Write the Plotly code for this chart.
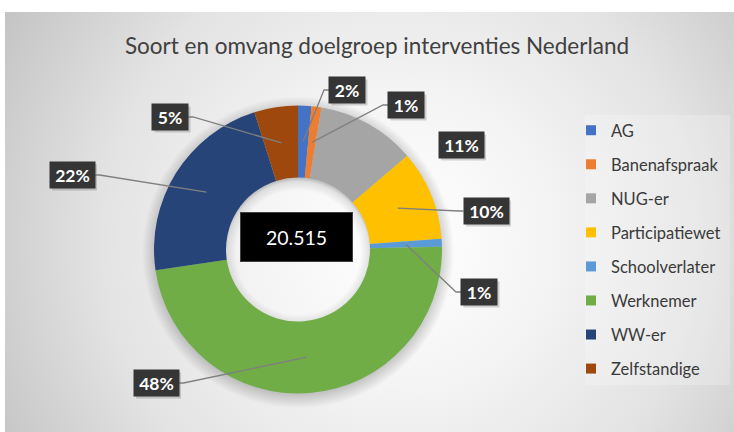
import math
import urllib.parse
import plotly.graph_objects as go

# ---------------- data ----------------
categories = ["AG", "Banenafspraak", "NUG-er", "Participatiewet",
              "Schoolverlater", "Werknemer", "WW-er", "Zelfstandige"]
values = [308, 226, 2277, 2072, 185, 9847, 4595, 1005]
pct_labels = ["2%", "1%", "11%", "10%", "1%", "48%", "22%", "5%"]
total_label = "20.515"
title_text = "Soort en omvang doelgroep interventies Nederland"

# ---------------- style / layout ----------------
colors = ["#4472C4", "#ED7D31", "#A5A5A5", "#FFC000",
          "#5B9BD5", "#70AD47", "#264478", "#9E480E"]
W, H = 734, 432
dom_x = [154 / W, 442 / W]
dom_y = [1 - 393.5 / H, 1 - 105.5 / H]
hole = 0.5
# label box centres (pixels) and whether a leader line is drawn
label_pos = [(347, 90), (406, 105), (461, 145), (486, 211),
             (479, 292), (156, 383), (72, 175), (170, 117)]
leader = [True, True, False, True, True, True, True, True]

FONT = "Lato"

def px2paper(x, y):
    return x / W, 1 - y / H

# pie geometry (pixels) derived from domain
cx = (dom_x[0] + dom_x[1]) / 2 * W
cy = (1 - (dom_y[0] + dom_y[1]) / 2) * H
R = min((dom_x[1] - dom_x[0]) * W, (dom_y[1] - dom_y[0]) * H) / 2
R_mid = R * (1 + hole) / 2
R_in = R * hole

# ---------------- background (radial gradient panel) ----------------
px0, py0 = 5, 12
pw, ph = W - px0, H - py0
so = R + 12
svg = f"""<svg xmlns='http://www.w3.org/2000/svg' width='{pw}' height='{ph}' viewBox='0 0 {pw} {ph}' preserveAspectRatio='none'>
<defs>
<radialGradient id='bg' gradientUnits='userSpaceOnUse' cx='{400-px0}' cy='{240-py0}' r='460'>
<stop offset='0' stop-color='#ffffff'/>
<stop offset='0.3' stop-color='#f5f5f5'/>
<stop offset='0.65' stop-color='#e3e3e3'/>
<stop offset='1' stop-color='#c3c3c3'/>
</radialGradient>
<radialGradient id='sh' gradientUnits='userSpaceOnUse' cx='{cx-px0}' cy='{cy-py0+3}' r='{so}'>
<stop offset='0' stop-color='#000' stop-opacity='0'/>
<stop offset='{(R_in-10)/so:.3f}' stop-color='#000' stop-opacity='0'/>
<stop offset='{(R_in-1)/so:.3f}' stop-color='#000' stop-opacity='0.10'/>
<stop offset='{(R_in+2)/so:.3f}' stop-color='#000' stop-opacity='0.22'/>
<stop offset='{(R-4)/so:.3f}' stop-color='#000' stop-opacity='0.22'/>
<stop offset='1' stop-color='#000' stop-opacity='0'/>
</radialGradient>
</defs>
<rect x='0' y='0' width='{pw}' height='{ph}' fill='url(#bg)'/>
<rect x='{585-px0}' y='{115-py0}' width='{730-585}' height='{385-115}' fill='#ffffff' fill-opacity='0.22'/>
<circle cx='{cx-px0}' cy='{cy-py0+3}' r='{so}' fill='url(#sh)'/>
</svg>"""
svg_uri = "data:image/svg+xml;charset=utf-8," + urllib.parse.quote(svg)

fig = go.Figure()

fig.add_trace(go.Pie(
    labels=categories, values=values, hole=hole, sort=False,
    direction="clockwise", rotation=0,
    marker=dict(colors=colors, line=dict(width=0)),
    textinfo="none", showlegend=False, hoverinfo="skip",
    domain=dict(x=dom_x, y=dom_y),
))

# legend entries (one group per category for spacing)
for cat, col in zip(categories, colors):
    fig.add_trace(go.Scatter(
        x=[None], y=[None], mode="markers", name=cat, legendgroup=cat,
        marker=dict(symbol="square", size=10, color=col),
        hoverinfo="skip", showlegend=True,
    ))

shapes = []
annotations = []
total = sum(values)
cum = 0
for i, v in enumerate(values):
    mid = (cum + v / 2) / total
    cum += v
    ang = 2 * math.pi * mid
    tx = cx + R_mid * math.sin(ang)
    ty = cy - R_mid * math.cos(ang)
    lx, ly = label_pos[i]
    bw = 36 if len(pct_labels[i]) <= 2 else 45
    bh = 26
    # shadow
    sx0, sy0 = px2paper(lx - bw / 2 + 2.5, ly - bh / 2 + 2.5)
    sx1, sy1 = px2paper(lx + bw / 2 + 2.5, ly + bh / 2 + 2.5)
    shapes.append(dict(type="rect", xref="paper", yref="paper",
                       x0=sx0, y0=sy0, x1=sx1, y1=sy1,
                       fillcolor="rgba(0,0,0,0.16)", line=dict(width=0),
                       layer="above"))
    if leader[i]:
        side = -1 if tx < lx else 1
        ex = lx + side * bw / 2
        elx = ex + side * 5
        p1 = px2paper(ex, ly)
        p2 = px2paper(elx, ly)
        p3 = px2paper(tx, ty)
        shapes.append(dict(type="path", xref="paper", yref="paper",
                           path=f"M {p1[0]},{p1[1]} L {p2[0]},{p2[1]} L {p3[0]},{p3[1]}",
                           line=dict(color="#7f7f7f", width=1.3), layer="above"))
    ax_, ay_ = px2paper(lx, ly)
    annotations.append(dict(
        x=ax_, y=ay_, xref="paper", yref="paper", showarrow=False,
        text=f"<b>{pct_labels[i]}</b>", bgcolor="#353535",
        font=dict(family=FONT, size=17.5, color="#ffffff"),
        width=bw, height=bh, borderpad=0, xanchor="center", yanchor="middle",
    ))

# centre total
tcx, tcy = px2paper(296.5, 237)
annotations.append(dict(
    x=tcx, y=tcy, xref="paper", yref="paper", showarrow=False,
    text=total_label, bgcolor="#000000", bordercolor="#3f3f3f", borderwidth=1,
    font=dict(family=FONT, size=19.5, color="#ffffff"),
    width=111, height=48, borderpad=0, xanchor="center", yanchor="middle",
))

fig.update_layout(
    width=W, height=H,
    margin=dict(l=0, r=0, t=0, b=0),
    paper_bgcolor="#ffffff", plot_bgcolor="rgba(0,0,0,0)",
    xaxis=dict(visible=False), yaxis=dict(visible=False),
    images=[dict(source=svg_uri, xref="paper", yref="paper",
                 x=px0 / W, y=1 - py0 / H, sizex=pw / W, sizey=ph / H,
                 xanchor="left", yanchor="top", sizing="stretch", layer="below")],
    title=dict(text=title_text, x=377 / W, xanchor="center",
               y=1 - 46 / H, yanchor="middle",
               font=dict(family=FONT, size=22.5, color="#404040")),
    legend=dict(x=571 / W, y=1 - 113 / H, xanchor="left", yanchor="top",
                font=dict(family=FONT, size=16.5, color="#3a3a3a"),
                bgcolor="rgba(0,0,0,0)", tracegroupgap=9.6,
                itemclick=False, itemdoubleclick=False),
    shapes=shapes, annotations=annotations,
    hovermode=False,
)

fig.write_html("out.html", config={"displayModeBar": False},
               post_script="document.body.style.margin='0px';")
